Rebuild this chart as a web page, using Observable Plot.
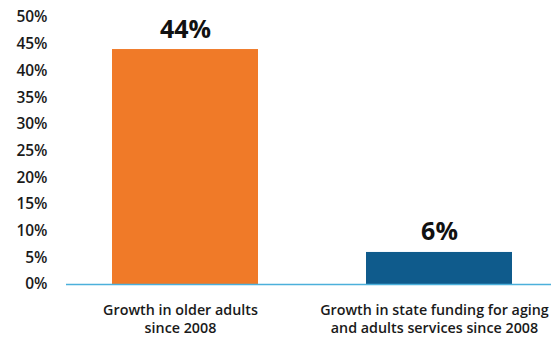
<!DOCTYPE html>
<html>
<head>
<meta charset="utf-8">
<script src="https://cdn.jsdelivr.net/npm/d3@7"></script>
<script src="https://cdn.jsdelivr.net/npm/@observablehq/plot@0.6"></script>
<style>
  html, body { margin: 0; padding: 0; background: #fff; }
  #chart svg { display: block; }
</style>
</head>
<body>
<div id="chart"></div>
<script>
const categories = ["Growth in older adults\nsince 2008", "Growth in state funding for aging\nand adults services since 2008"];
const values = [44, 6];
const valueLabels = ["44%", "6%"];
const barColors = ["#F07A28", "#0F5B8C"];
const yTicks = [0, 5, 10, 15, 20, 25, 30, 35, 40, 45, 50];

const data = categories.map((c, i) => ({category: c, value: values[i], label: valueLabels[i], color: barColors[i]}));

const chart = Plot.plot({
  width: 551,
  height: 337,
  marginLeft: 66,
  marginRight: 0,
  marginTop: 17,
  marginBottom: 53,
  style: {fontFamily: "'Open Sans', sans-serif", fontWeight: 600, color: "#1a1a1a", background: "#fff"},
  x: {domain: categories, range: [111, 511.7], paddingInner: 0.427, paddingOuter: 0, label: null},
  y: {domain: [0, 50], label: null},
  marks: [
    Plot.barY(data, {x: "category", y: "value", fill: "color"}),
    Plot.ruleY([0], {stroke: "#4BB0DB", strokeWidth: 1.5}),
    Plot.axisY({ticks: yTicks, tickFormat: d => d + "%", tickSize: 0, tickPadding: 19, fontSize: 15.5, label: null}),
    Plot.axisX({tickSize: 0, tickPadding: 18, fontSize: 14.3, lineHeight: 1.24, dx: -5, label: null}),
    Plot.text(data, {x: "category", y: "value", text: "label", dy: -12, lineAnchor: "bottom", fontSize: 25, fontWeight: 700, fill: "#111"})
  ]
});
document.getElementById("chart").appendChild(chart);
</script>
</body>
</html>
